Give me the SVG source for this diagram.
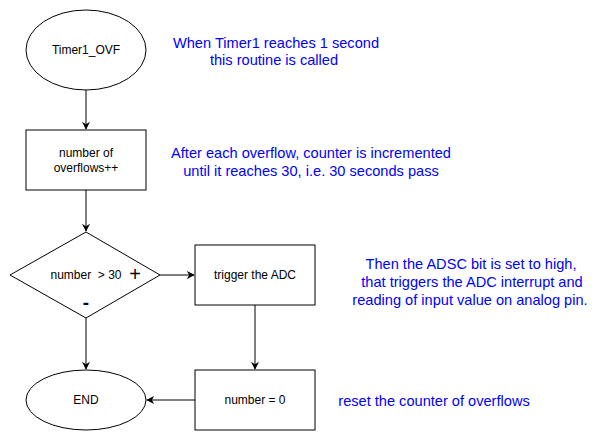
<svg xmlns="http://www.w3.org/2000/svg" width="606" height="441" viewBox="0 0 606 441">
<defs>
<marker id="arr" viewBox="0 0 10 10" refX="9" refY="5" markerWidth="8" markerHeight="8" markerUnits="userSpaceOnUse" orient="auto">
<path d="M0,0 L10,5 L0,10 L3,5 Z" fill="#000"/>
</marker>
<style>
.shape{fill:#fff;stroke:#000;stroke-width:1}
.lbl{font-family:"Liberation Sans",Arial,sans-serif;font-size:12px;fill:#000;text-anchor:middle;dominant-baseline:central}
.note{font-family:"Liberation Sans",Arial,sans-serif;font-size:14.6px;fill:#0000ff;text-anchor:middle;dominant-baseline:central}
.edge{fill:none;stroke:#000;stroke-width:1;marker-end:url(#arr)}
</style>
</defs>
<rect width="606" height="441" fill="#fff"/>
<g id="connectors">
<path class="edge" d="M86,90 L86,129"/>
<path class="edge" d="M86,190 L86,231"/>
<path class="edge" d="M160,275 L194,275"/>
<path class="edge" d="M255,305 L255,369"/>
<path class="edge" d="M86,318 L86,369"/>
<path class="edge" d="M195,400 L147,400"/>
</g>
<g id="start">
<ellipse class="shape" cx="86" cy="50" rx="60" ry="40"/>
<text class="lbl" x="86" y="50">Timer1_OVF</text>
</g>
<g id="increment">
<rect class="shape" x="26" y="130" width="120" height="60"/>
<text class="lbl" x="86" y="153">number of</text>
<text class="lbl" x="86" y="168">overflows++</text>
</g>
<g id="decision">
<polygon class="shape" points="86,232 160,275 86,318 10,275"/>
<text class="lbl" x="86" y="275">number&#160; &gt; 30</text>
<text class="lbl" x="135" y="274" style="font-size:20px">+</text>
<text class="lbl" x="86" y="302" style="font-size:19px;font-weight:bold">-</text>
</g>
<g id="trigger">
<rect class="shape" x="195" y="245" width="120" height="60"/>
<text class="lbl" x="255" y="275">trigger the ADC</text>
</g>
<g id="reset">
<rect class="shape" x="195" y="370" width="120" height="60"/>
<text class="lbl" x="255" y="400">number = 0</text>
</g>
<g id="end">
<ellipse class="shape" cx="86" cy="400" rx="60" ry="30"/>
<text class="lbl" x="86" y="400">END</text>
</g>
<g id="notes">
<text class="note" x="276" y="43">When Timer1 reaches 1 second</text>
<text class="note" x="274" y="60">this routine is called</text>
<text class="note" x="311" y="153">After each overflow, counter is incremented</text>
<text class="note" x="311" y="171">until it reaches 30, i.e. 30 seconds pass</text>
<text class="note" x="471" y="264">Then the ADSC bit is set to high,</text>
<text class="note" x="472" y="282">that triggers the ADC interrupt and</text>
<text class="note" x="470" y="300">reading of input value on analog pin.</text>
<text class="note" x="434" y="401">reset the counter of overflows</text>
</g>
</svg>
